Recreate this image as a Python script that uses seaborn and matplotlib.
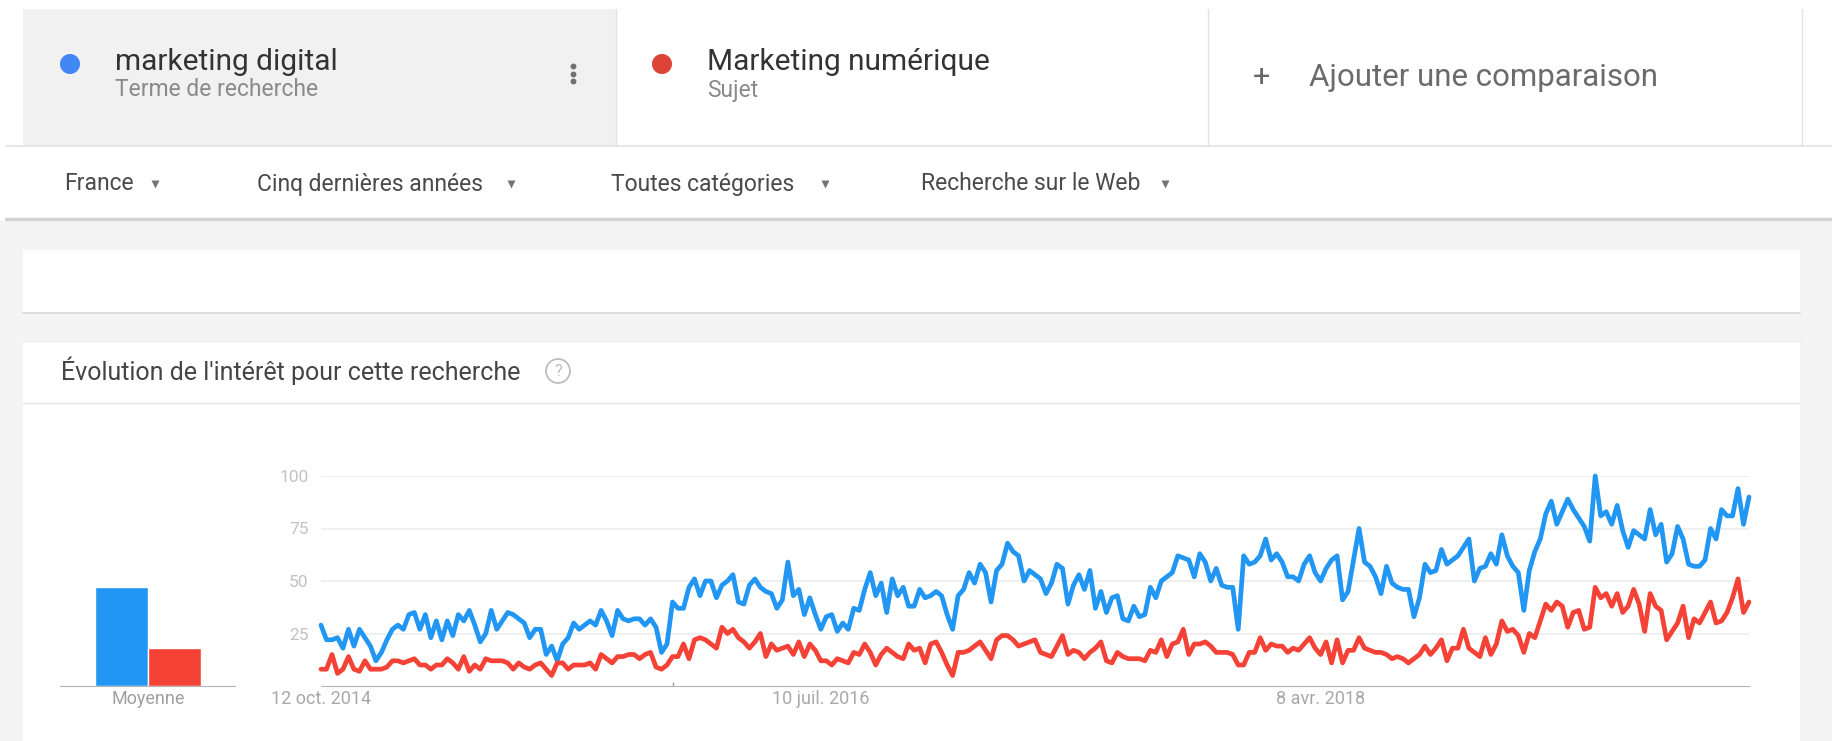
import pandas as pd
import numpy as np
import matplotlib.pyplot as plt
import matplotlib.patches as mpatches
import seaborn as sns

# Header / filter texts
terms = ['marketing digital', 'Marketing numérique']
term_types = ['Terme de recherche', 'Sujet']
filters = ['France', 'Cinq dernières années', 'Toutes catégories', 'Recherche sur le Web']
card_title = "Évolution de l'intérêt pour cette recherche"

# Weekly interest (0-100) from 12 oct. 2014
start_date = '2014-10-12'
interest_digital = [
    29, 22, 22, 23, 18, 27, 19, 27, 23, 19,
    12, 16, 22, 27, 29, 27, 34, 35, 27, 34,
    23, 31, 22, 31, 24, 34, 31, 36, 29, 21,
    25, 36, 27, 31, 35, 34, 32, 30, 23, 27,
    27, 15, 19, 12, 20, 23, 30, 27, 29, 31,
    29, 36, 31, 24, 36, 32, 31, 32, 32, 29,
    32, 28, 16, 20, 40, 37, 37, 47, 51, 43,
    50, 50, 42, 48, 50, 53, 40, 39, 48, 51,
    47, 45, 44, 37, 41, 59, 43, 46, 34, 42,
    34, 27, 33, 34, 26, 30, 27, 37, 36, 46,
    54, 43, 49, 35, 51, 43, 47, 38, 38, 46,
    42, 43, 45, 43, 34, 27, 43, 46, 54, 49,
    58, 54, 40, 55, 58, 68, 64, 62, 50, 55,
    53, 51, 44, 49, 58, 56, 39, 48, 53, 46,
    55, 37, 45, 35, 42, 43, 32, 31, 38, 33,
    34, 47, 42, 50, 52, 54, 62, 61, 60, 52,
    63, 59, 50, 56, 48, 47, 47, 27, 62, 58,
    59, 62, 70, 60, 63, 59, 52, 52, 50, 58,
    62, 54, 50, 56, 60, 62, 41, 45, 60, 75,
    59, 57, 52, 44, 57, 49, 47, 46, 46, 33,
    42, 58, 54, 55, 65, 58, 60, 62, 66, 70,
    50, 56, 57, 63, 58, 72, 62, 57, 54, 36,
    55, 64, 70, 82, 88, 77, 83, 89, 84, 80,
    76, 69, 100, 81, 83, 77, 86, 74, 66, 74,
    72, 70, 84, 72, 77, 59, 63, 76, 70, 58,
    57, 57, 60, 75, 70, 84, 81, 81, 94, 77, 90,
]
interest_numerique = [
    8, 8, 15, 6, 8, 14, 8, 7, 12, 8,
    8, 8, 9, 12, 12, 11, 12, 13, 10, 10,
    8, 10, 10, 13, 11, 8, 14, 7, 10, 8,
    13, 12, 12, 12, 11, 8, 11, 9, 8, 10,
    11, 8, 5, 11, 11, 8, 10, 10, 10, 11,
    8, 15, 13, 11, 14, 14, 15, 15, 13, 15,
    16, 9, 8, 10, 14, 14, 20, 13, 22, 23,
    22, 20, 18, 28, 25, 27, 23, 21, 18, 21,
    25, 14, 20, 17, 18, 19, 15, 21, 14, 20,
    17, 12, 12, 10, 13, 12, 11, 16, 15, 20,
    16, 10, 15, 18, 16, 14, 13, 20, 17, 18,
    11, 20, 21, 16, 10, 5, 16, 16, 17, 19,
    21, 17, 13, 22, 24, 24, 22, 19, 20, 21,
    22, 16, 15, 14, 19, 24, 15, 17, 16, 13,
    16, 18, 21, 12, 11, 16, 14, 13, 13, 13,
    12, 17, 16, 22, 14, 20, 21, 27, 15, 20,
    20, 21, 19, 16, 16, 16, 15, 10, 10, 16,
    16, 23, 17, 20, 19, 19, 16, 18, 17, 20,
    23, 18, 15, 21, 11, 22, 11, 17, 17, 23,
    18, 17, 16, 16, 15, 13, 14, 13, 11, 13,
    15, 19, 15, 18, 22, 12, 18, 18, 27, 18,
    16, 14, 23, 15, 20, 31, 26, 27, 24, 16,
    25, 23, 31, 39, 36, 40, 38, 28, 35, 36,
    27, 28, 47, 42, 44, 38, 44, 35, 38, 46,
    39, 26, 44, 38, 36, 22, 26, 30, 38, 23,
    32, 30, 35, 40, 30, 31, 35, 42, 51, 35, 40,
]
averages = [47, 18]
avg_label = 'Moyenne'

x_label_dates = ['2014-10-12', '2016-07-10', '2018-04-08']
x_labels = ['12 oct. 2014', '10 juil. 2016', '8 avr. 2018']
y_ticks = [25, 50, 75, 100]
note_date = '2016-01-03'

line_colors = ['#2196f3', '#f44336']
dot_colors = ['#4285f4', '#db4437']

sns.set_style('white')
plt.rcParams['font.family'] = ['Roboto', 'DejaVu Sans']

W, H = 1833, 741
fig = plt.figure(figsize=(W / 100, H / 100), dpi=100)
fig.patch.set_facecolor('white')


def box(x0, y0, x1, y1):
    # pixel box (top-left origin) -> figure fraction
    return [x0 / W, 1 - y1 / H, (x1 - x0) / W, (y1 - y0) / H]


# Page background drawn in pixel coordinates
bg = fig.add_axes([0, 0, 1, 1])
bg.set_xlim(0, W)
bg.set_ylim(H, 0)
bg.axis('off')

bg.add_patch(mpatches.Rectangle((0, 221), W, H - 221, color='#f4f4f4', lw=0))
bg.add_patch(mpatches.Rectangle((23, 9), 593, 137, color='#f1f1f1', lw=0))
for xv in [616, 1208, 1802]:
    bg.plot([xv, xv], [9, 146], color='#e2e2e2', lw=1)
bg.plot([6, W], [146, 146], color='#e2e2e2', lw=1.2)
bg.plot([6, W], [219, 219], color='#d2d2d2', lw=2.5)

# empty card + main card
bg.add_patch(mpatches.Rectangle((23, 250), 1777, 62, color='white', lw=0))
bg.plot([23, 1800], [312.5, 312.5], color='#dedede', lw=1.5)
bg.add_patch(mpatches.Rectangle((23, 341), 1777, 400, color='white', lw=0))
bg.plot([23, 1800], [340.5, 340.5], color='#ececec', lw=1)
bg.plot([23, 1800], [403, 403], color='#e6e6e6', lw=1)

# header cards
term_x = [115, 707]
dot_x = [70, 662]
for tx, dx, term, kind, dc in zip(term_x, dot_x, terms, term_types, dot_colors):
    bg.add_patch(mpatches.Circle((dx, 64), 10, color=dc, lw=0))
    bg.text(tx, 62, term, fontsize=21.5, color='#333333', va='center', ha='left')
    bg.text(tx, 90, kind, fontsize=16.5, color='#8a8a8a', va='center', ha='left')
bg.plot([573, 573, 573], [66, 73.5, 81], ls='none', marker='o', ms=3.2, color='#707070')
bg.text(1262, 77, '+', fontsize=22, color='#666666', va='center', ha='center')
bg.text(1309, 77, 'Ajouter une comparaison', fontsize=22.5, color='#6b6b6b', va='center', ha='left')

# filter row
filter_x = [64, 257, 611, 921]
arrow_x = [155, 511, 825, 1165]
for fx, ax_, label in zip(filter_x, arrow_x, filters):
    bg.text(fx, 184, label, fontsize=16.5, color='#4a4a4a', va='center', ha='left')
    bg.plot(ax_, 184, marker='v', ms=6, color='#757575', mec='none')

# card title + help icon
bg.text(61, 371, card_title, fontsize=18, color='#454545', va='center', ha='left')
bg.add_patch(mpatches.Circle((558, 371), 12, fc='none', ec='#bdbdbd', lw=1.3))
bg.text(558, 372, '?', fontsize=12, color='#bdbdbd', va='center', ha='center')

# Average bars
avg_df = pd.DataFrame({'cat': [avg_label, avg_label], 'term': terms, 'value': averages})
ax_bar = fig.add_axes(box(60, 476, 235, 686))
sns.barplot(data=avg_df, x='cat', y='value', hue='term', palette=line_colors,
            hue_order=terms, legend=False, ax=ax_bar, width=0.8, saturation=1)
ax_bar.set_xlim(-0.664, 0.657)
ax_bar.set_ylim(0, 100)
ax_bar.set_xlabel('')
ax_bar.set_ylabel('')
ax_bar.set_yticks([])
ax_bar.patch.set_alpha(0)
for s in ['top', 'left', 'right']:
    ax_bar.spines[s].set_visible(False)
ax_bar.spines['bottom'].set_color('#b5b5b5')
ax_bar.tick_params(axis='x', length=0, pad=3, labelsize=13, labelcolor='#a0a0a0')

# Line chart
dates = pd.date_range(start_date, periods=len(interest_digital), freq='7D')
df = pd.DataFrame({'date': dates, terms[0]: interest_digital, terms[1]: interest_numerique})
long_df = df.melt(id_vars='date', var_name='term', value_name='value')

ax = fig.add_axes(box(321, 476, 1749, 686))
sns.lineplot(data=long_df, x='date', y='value', hue='term', hue_order=terms,
             palette=line_colors, lw=3.4, legend=False, ax=ax)
for ln in ax.lines:
    ln.set_clip_on(False)
ax.set_xlim(dates[0], dates[-1])
ax.set_ylim(0, 100)
ax.set_yticks(y_ticks)
ax.set_yticklabels([str(v) for v in y_ticks])
ax.set_xticks(pd.to_datetime(x_label_dates))
ax.set_xticklabels(x_labels)
ax.set_xlabel('')
ax.set_ylabel('')
ax.patch.set_alpha(0)
ax.grid(axis='y', color='#ececec', lw=1.2)
ax.grid(axis='x', visible=False)
ax.set_axisbelow(True)
for s in ['top', 'left', 'right']:
    ax.spines[s].set_visible(False)
ax.spines['bottom'].set_color('#b5b5b5')
ax.tick_params(axis='y', length=0, pad=9, labelsize=12.5, labelcolor='#c2c2c2')
ax.tick_params(axis='x', length=0, pad=3, labelsize=13, labelcolor='#a8a8a8')
ax.vlines(pd.Timestamp(note_date), 0, 2, color='#a0a0a0', lw=1)

fig.savefig('out.png', dpi=100)
